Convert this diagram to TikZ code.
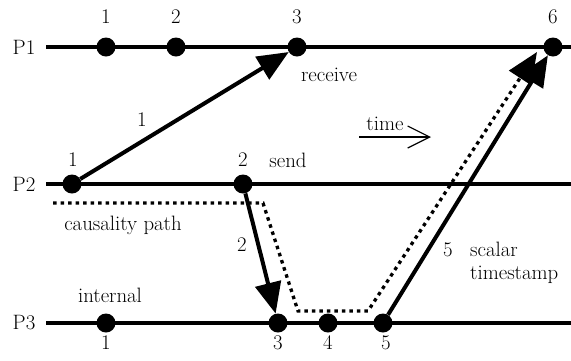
\documentclass[tikz,border=0pt]{standalone}
\usetikzlibrary{arrows.meta}

\tikzset{
  proc/.style={line width=3.3pt},
  ev/.style={circle,fill=black,inner sep=0pt,minimum size=19pt},
  msg/.style={line width=4pt,-{Triangle[length=31pt,width=26pt]}},
  cpath/.style={line width=3.3pt,dash pattern=on 3.5pt off 4pt,-{Triangle[length=31pt,width=26pt]}},
  lbl/.style={font=\rmfamily\fontsize{20.8}{23}\selectfont,inner sep=0pt}
}

\begin{document}
\begin{tikzpicture}[x=1pt,y=-1pt]
  \useasboundingbox (0,0) rectangle (571,360);
  % process lines
  \node[lbl] (P1) at (24,47) {P1};
  \node[lbl] (P2) at (24,184) {P2};
  \node[lbl] (P3) at (24,323) {P3};
  \coordinate (l1) at (46,47);  \coordinate (r1) at (571,47);
  \coordinate (l2) at (46,184); \coordinate (r2) at (571,184);
  \coordinate (l3) at (46,323); \coordinate (r3) at (571,323);
  \draw[proc] (l1) -- (r1);
  \draw[proc] (l2) -- (r2);
  \draw[proc] (l3) -- (r3);

  % events
  \node[ev] (a1) at (106,47) {};
  \node[ev] (a2) at (176,47) {};
  \node[ev] (a3) at (297,47) {};
  \node[ev] (a6) at (553,47) {};
  \node[ev] (b1) at (72,184) {};
  \node[ev] (b2) at (243,184) {};
  \node[ev] (c1) at (106,323) {};
  \node[ev] (c3) at (278,323) {};
  \node[ev] (c4) at (328,323) {};
  \node[ev] (c5) at (383,323) {};

  % clock values
  \node[lbl] at (106,17) {1};
  \node[lbl] at (176,17) {2};
  \node[lbl] at (297,17) {3};
  \node[lbl] at (553,17) {6};
  \node[lbl] at (73,160) {1};
  \node[lbl] at (243,160) {2};
  \node[lbl] at (106,343) {1};
  \node[lbl] at (278,343) {3};
  \node[lbl] at (328,343) {4};
  \node[lbl] at (386,343) {5};

  % causality path
  \coordinate (k0) at (53,203);
  \coordinate (k1) at (263,203);
  \coordinate (k2) at (298,311);
  \coordinate (k3) at (368,311);
  \coordinate (k4) at (537,52);
  \draw[cpath] (k0) -- (k1) -- (k2) -- (k3) -- (k4);

  % messages
  \draw[msg] (b1) -- (a3);
  \draw[msg] (b2) -- (c3);
  \draw[msg] (c5) -- (a6);

  \node[lbl] at (142,120) {1};
  \node[lbl] at (242,245) {2};
  \node[lbl] at (448,250) {5};
  \node[lbl] at (329,75) {receive};
  \node[lbl] at (288,160) {send};
  \node[lbl] at (110,295) {internal};
  \node[lbl] at (123,225) {causality path};
  \node[lbl,align=left,anchor=west] at (470,263) {scalar\\timestamp};

  % time arrow
  \node[lbl] (time) at (385,124) {time};
  \coordinate (t0) at (359,137);
  \coordinate (t1) at (431,137);
  \draw[line width=1.2pt,-{Straight Barb[length=22pt,width=22pt]}] (t0) -- (t1);
\end{tikzpicture}
\end{document}
